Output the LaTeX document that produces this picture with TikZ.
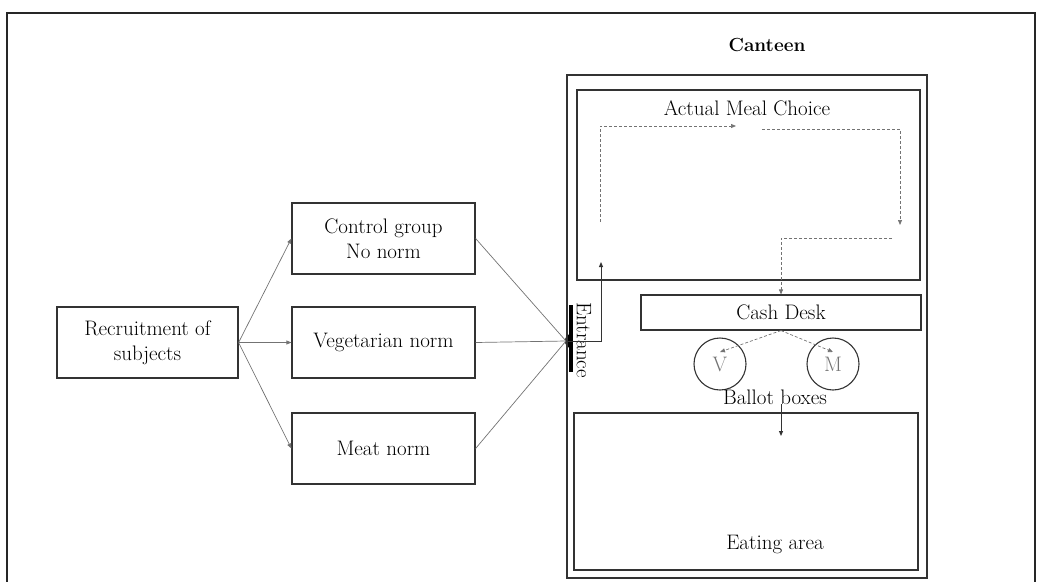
\documentclass[tikz,border=0pt]{standalone}
\usetikzlibrary{arrows.meta}
\begin{document}
\begin{tikzpicture}[x=1pt,y=-1pt,
  box/.style={draw=black!80,line width=1.2pt,minimum width=183pt,minimum height=71pt,align=center,font=\fontsize{21}{25}\selectfont,inner sep=0pt},
  area/.style={draw=black!80,line width=1.1pt},
  conn/.style={draw=black!55,line width=0.7pt},
  tip/.style={-{Triangle[length=5pt,width=4pt]}},
  dconn/.style={draw=black!55,line width=0.7pt,dashed,dash pattern=on 3pt off 2pt},
  lbl/.style={font=\fontsize{21}{25}\selectfont,inner sep=0pt}
]
\useasboundingbox (0,0) rectangle (1040,581);
\draw[line width=1.3pt,black!85] (7,585) -- (7,13) -- (1035,13) -- (1035,585);

% left side
\node[box,minimum width=181pt] (rec) at (147.5,342.5) {Recruitment of\\subjects};
\node[box] (ctl) at (383.5,238.5) {Control group\\No norm};
\node[box] (veg) at (383.5,342.5) {Vegetarian norm};
\node[box] (meat) at (383.5,448.5) {Meat norm};

\coordinate (ent) at (566,341);
\draw[line width=4pt] (571,305) -- (571,372);
\fill (571,334) arc (90:270:6pt and 7pt) -- cycle;
\node[lbl,rotate=-90] (entl) at (584,340) {Entrance};

\draw[conn,tip] (rec.east) -- (ctl.west);
\draw[conn,tip] (rec.east) -- (veg.west);
\draw[conn,tip] (rec.east) -- (meat.west);
\draw[conn] (ctl.east) -- (ent);
\draw[conn] (veg.east) -- (ent);
\draw[conn] (meat.east) -- (ent);

% canteen
\node[inner sep=0pt,font=\fontsize{19}{22}\selectfont\bfseries] (cant) at (767,45) {Canteen};
\draw[area] (567,75) rectangle (927,578);
\draw[area] (577,90) rectangle (920,280);
\node[lbl] (amc) at (747,108) {Actual Meal Choice};

\coordinate (d1) at (600,222);
\coordinate (d2) at (736,126);
\coordinate (d3) at (762,129);
\coordinate (d4) at (900,225);
\coordinate (d5) at (892,238);
\draw[dconn,tip] (d1) |- (d2);
\draw[dconn,tip] (d3) -| (d4);

\node[draw=black!80,line width=1.1pt,minimum width=280pt,minimum height=35pt,inner sep=0pt,font=\fontsize{21}{25}\selectfont] (cash) at (781,312.5) {Cash Desk};
\draw[dconn,tip] (d5) -| (cash.north);

\coordinate (e1) at (601,262);
\draw[draw=black!80,line width=0.9pt,tip] (ent) -- (601,341) -- (e1);

\node[circle,draw=black!80,line width=1.1pt,minimum size=52pt,inner sep=0pt,text=black!55,font=\fontsize{21}{25}\selectfont] (V) at (720,364) {V};
\node[circle,draw=black!80,line width=1.1pt,minimum size=52pt,inner sep=0pt,text=black!55,font=\fontsize{21}{25}\selectfont] (M) at (833,364) {M};
\draw[dconn,tip] (cash.south) -- (720,352);
\draw[dconn,tip] (cash.south) -- (833,352);
\node[lbl] (ballot) at (775,397) {Ballot boxes};

\draw[area] (574,413) rectangle (918,570);
\node[lbl] (eat) at (775,544) {Eating area};
\coordinate (b1) at (781,404);
\coordinate (b2) at (781,436);
\draw[draw=black!80,line width=0.9pt,tip] (b1) -- (b2);
\end{tikzpicture}
\end{document}
